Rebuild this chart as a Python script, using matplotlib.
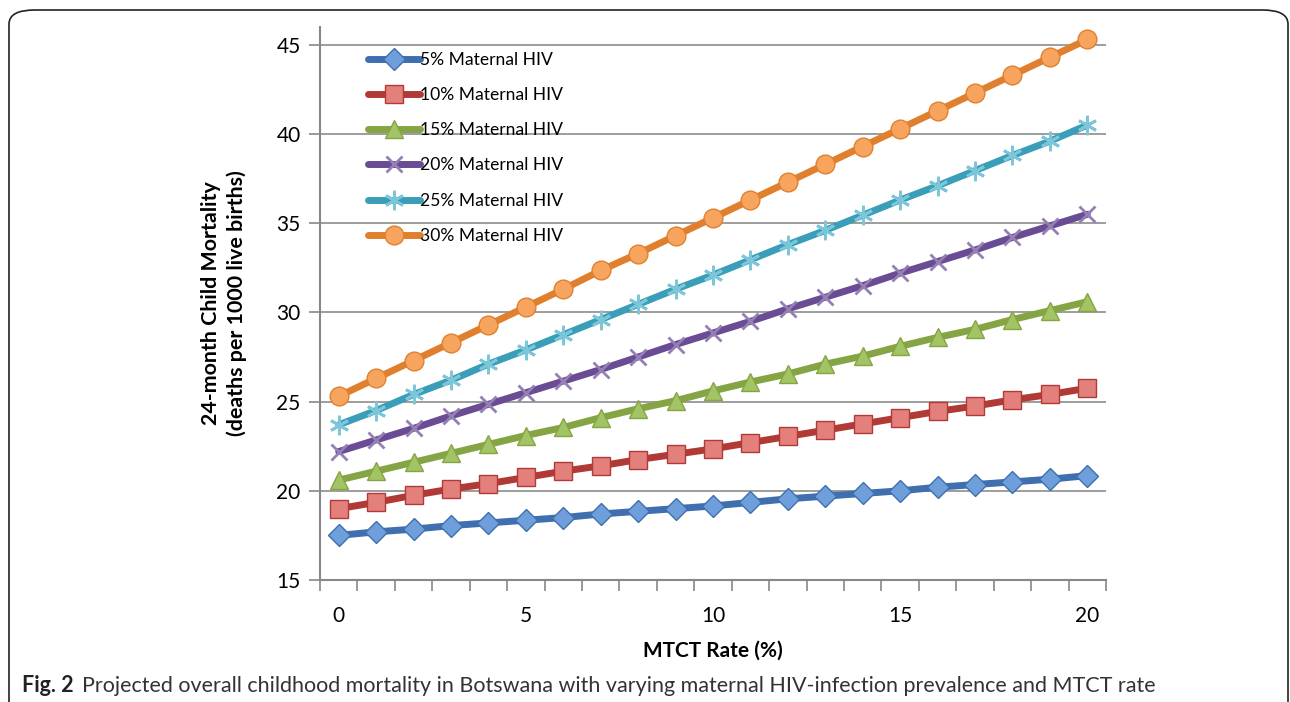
import numpy as np
import matplotlib.pyplot as plt
from matplotlib.patches import FancyBboxPatch

plt.rcParams['font.family'] = ['Lato', 'DejaVu Sans']

# dannye
mtct = list(range(0, 21))
hiv5 = [17.5, 17.7, 17.85, 18.05, 18.2, 18.35, 18.5, 18.7, 18.85, 19.0, 19.15,
        19.35, 19.55, 19.7, 19.85, 20.0, 20.2, 20.35, 20.5, 20.65, 20.85]
hiv10 = [19.0, 19.35, 19.75, 20.1, 20.4, 20.75, 21.1, 21.4, 21.75, 22.05, 22.35,
         22.7, 23.05, 23.4, 23.75, 24.1, 24.45, 24.75, 25.1, 25.4, 25.75]
hiv15 = [20.6, 21.1, 21.6, 22.1, 22.6, 23.1, 23.55, 24.1, 24.6, 25.05, 25.6,
         26.1, 26.55, 27.1, 27.55, 28.1, 28.6, 29.05, 29.6, 30.1, 30.6]
hiv20 = [22.2, 22.85, 23.5, 24.2, 24.85, 25.5, 26.15, 26.8, 27.5, 28.2, 28.85,
         29.5, 30.2, 30.85, 31.5, 32.2, 32.85, 33.5, 34.2, 34.85, 35.5]
hiv25 = [23.7, 24.5, 25.4, 26.2, 27.1, 27.9, 28.75, 29.6, 30.45, 31.3, 32.1,
         32.95, 33.8, 34.6, 35.45, 36.3, 37.1, 37.95, 38.8, 39.6, 40.5]
hiv30 = [25.3, 26.3, 27.3, 28.3, 29.3, 30.3, 31.3, 32.35, 33.3, 34.3, 35.3,
         36.3, 37.3, 38.3, 39.3, 40.3, 41.3, 42.3, 43.3, 44.3, 45.3]
labels = ["5% Maternal HIV", "10% Maternal HIV", "15% Maternal HIV",
          "20% Maternal HIV", "25% Maternal HIV", "30% Maternal HIV"]

series = [hiv5, hiv10, hiv15, hiv20, hiv25, hiv30]
# (cvet linii, cvet markera, marker, razmer)
styles = [("#3F6FAE", "#6E9FDB", "D", 11),
          ("#B23A36", "#E3807C", "s", 12.5),
          ("#85A443", "#A3C464", "^", 12.5),
          ("#6A4C94", "#9580B5", "x", 12),
          ("#3A9EB8", "#7CC6DA", (6, 2, 0), 14),
          ("#E0802F", "#F7A55E", "o", 13.5)]

fig = plt.figure(figsize=(12.9, 7.02), dpi=100)
fig.patches.append(FancyBboxPatch((9 / 1290, -0.05), 1279 / 1290, 1.05 - 10 / 702,
                                  boxstyle="round,pad=0,rounding_size=0.02",
                                  transform=fig.transFigure, facecolor="none",
                                  edgecolor="#222222", linewidth=1.2))

ax = fig.add_axes([320 / 1290, 1 - 580 / 702, 786 / 1290, 553 / 702])

for i in range(6):
    lc, mc, mk, ms = styles[i]
    if mk in ("x", (6, 2, 0)):
        ax.plot(mtct, series[i], color=lc, lw=5, marker=mk, ms=ms,
                mec=mc, mew=2, label=labels[i], zorder=3, solid_capstyle="round")
    else:
        ax.plot(mtct, series[i], color=lc, lw=5, marker=mk, ms=ms,
                mfc=mc, mec=lc, mew=1, label=labels[i], zorder=3, solid_capstyle="round")

ax.set_xlim(-0.5, 20.5)
ax.set_ylim(15, 46)
ax.set_yticks([15, 20, 25, 30, 35, 40, 45])
ax.set_xticks([0, 5, 10, 15, 20])
ax.set_xticks(np.arange(-0.5, 21, 1), minor=True)
ax.tick_params(axis="x", which="major", length=0, pad=19, labelsize=15)
ax.tick_params(axis="x", which="minor", length=8, width=1.2, color="#888888", direction="out")
ax.tick_params(axis="y", length=8, width=1.2, color="#888888", pad=6, labelsize=15)
ax.yaxis.grid(True, color="#8c8c8c", lw=1.2)
ax.set_axisbelow(True)
for s in ["top", "right"]:
    ax.spines[s].set_visible(False)
for s in ["left", "bottom"]:
    ax.spines[s].set_color("#888888")
    ax.spines[s].set_linewidth(1.5)

ax.set_xlabel("MTCT Rate (%)", fontsize=15, fontweight="bold", labelpad=10)
ax.set_ylabel("24-month Child Mortality\n(deaths per 1000 live births)",
              fontsize=15.4, fontweight="bold", labelpad=21, linespacing=1.35)

ax.legend(loc="upper left", bbox_to_anchor=(0.052, 0.968), frameon=False, fontsize=12.6,
          handlelength=3.0, handletextpad=0.0, labelspacing=1.1, borderaxespad=0)

fig.text(22 / 1290, 1 - 686 / 702, "Fig. 2", fontsize=15.5, fontweight="bold",
         color="#222222", va="center")
fig.text(82 / 1290, 1 - 686 / 702,
         "Projected overall childhood mortality in Botswana with varying maternal "
         "HIV-infection prevalence and MTCT rate",
         fontsize=15.5, color="#333333", va="center")

plt.savefig("out.png", dpi=100)
